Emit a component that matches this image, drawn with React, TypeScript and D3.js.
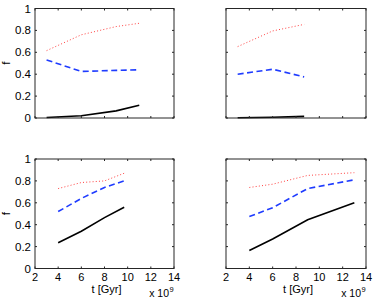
import React from "react";
import * as d3 from "d3";

// ---- data ----
const xTicks = [2, 4, 6, 8, 10, 12, 14];
const yTicks = [0, 0.2, 0.4, 0.6, 0.8, 1];
const yTickLabels = ["0", "0.2", "0.4", "0.6", "0.8", "1"];

// top-left panel
const tA = [3, 6, 9, 11];
const redA = [0.615, 0.76, 0.835, 0.865];
const blueA = [0.53, 0.425, 0.435, 0.44];
const blackA = [0.004, 0.02, 0.065, 0.116];

// top-right panel
const tB = [3, 6, 8.7];
const redB = [0.652, 0.795, 0.855];
const blueB = [0.4, 0.445, 0.375];
const blackB = [0.002, 0.007, 0.015];

// bottom-left panel
const tC = [4, 6, 8, 9.7];
const redC = [0.73, 0.785, 0.8, 0.87];
const blueC = [0.52, 0.64, 0.74, 0.8];
const blackC = [0.235, 0.34, 0.465, 0.56];

// bottom-right panel
const tD = [4, 6, 9, 13];
const redD = [0.74, 0.77, 0.85, 0.875];
const blueD = [0.475, 0.555, 0.73, 0.81];
const blackD = [0.165, 0.27, 0.445, 0.6];

const FONT = "'Liberation Sans', Arial, Helvetica, sans-serif";

type PanelProps = {
  x0: number; x1: number; y0: number; y1: number;
  t: number[]; red: number[]; blue: number[]; black: number[];
  showYLabels: boolean; showXLabels: boolean;
};

function Panel(p: PanelProps) {
  const xs = d3.scaleLinear().domain([2, 14]).range([p.x0, p.x1]);
  const ys = d3.scaleLinear().domain([0, 1]).range([p.y1, p.y0]);
  const line = d3
    .line<[number, number]>()
    .x((d) => xs(d[0]))
    .y((d) => ys(d[1]));
  const mk = (v: number[]) => line(p.t.map((tt, i) => [tt, v[i]] as [number, number])) || "";
  const tl = 2;
  const axisCol = "#262626";
  return (
    <g>
      <path d={mk(p.red)} fill="none" stroke="#ff4040" strokeWidth={1} strokeDasharray="1,2.2" />
      <path d={mk(p.blue)} fill="none" stroke="#1f3cff" strokeWidth={1.6} strokeDasharray="6,3.5" />
      <path d={mk(p.black)} fill="none" stroke="#000" strokeWidth={1.6} />
      <rect x={p.x0} y={p.y0} width={p.x1 - p.x0} height={p.y1 - p.y0} fill="none" stroke={axisCol} strokeWidth={1} />
      {xTicks.map((v) => (
        <g key={"x" + v}>
          <line x1={xs(v)} x2={xs(v)} y1={p.y1} y2={p.y1 - tl} stroke={axisCol} />
          <line x1={xs(v)} x2={xs(v)} y1={p.y0} y2={p.y0 + tl} stroke={axisCol} />
          {p.showXLabels && (
            <text x={xs(v)} y={p.y1 + 12.5} textAnchor="middle" fontSize={11} fontFamily={FONT} fill="#000">
              {v}
            </text>
          )}
        </g>
      ))}
      {yTicks.map((v, i) => (
        <g key={"y" + v}>
          <line x1={p.x0} x2={p.x0 + tl} y1={ys(v)} y2={ys(v)} stroke={axisCol} />
          <line x1={p.x1} x2={p.x1 - tl} y1={ys(v)} y2={ys(v)} stroke={axisCol} />
          {p.showYLabels && (
            <text x={p.x0 - 4} y={ys(v) + 4} textAnchor="end" fontSize={11.5} fontFamily={FONT} fill="#000">
              {yTickLabels[i]}
            </text>
          )}
        </g>
      ))}
      {p.showYLabels && (
        <text
          transform={`translate(${p.x0 - 25},${(p.y0 + p.y1) / 2}) rotate(-90)`}
          textAnchor="middle"
          fontSize={11.5}
          fontFamily={FONT}
          fill="#000"
        >
          f
        </text>
      )}
      {p.showXLabels && (
        <g>
          <text x={(p.x0 + p.x1) / 2 + 2} y={p.y1 + 24.5} textAnchor="middle" fontSize={11} fontFamily={FONT} fill="#000">
            t [Gyr]
          </text>
          <text x={p.x1 - 5} y={p.y1 + 28.5} textAnchor="end" fontSize={10.5} fontFamily={FONT} fill="#000">
            x 10
          </text>
          <text x={p.x1 - 4.5} y={p.y1 + 23} textAnchor="start" fontSize={7.5} fontFamily={FONT} fill="#000">
            9
          </text>
        </g>
      )}
    </g>
  );
}

export default function App() {
  const L = [35, 174];
  const R = [226, 366];
  const T = [8.5, 118];
  const B = [159, 268.5];
  return (
    <svg width={374} height={300} style={{ position: "absolute", left: 0, top: 0, background: "#fff" }}>
      <rect width={374} height={300} fill="#fff" />
      <Panel x0={L[0]} x1={L[1]} y0={T[0]} y1={T[1]} t={tA} red={redA} blue={blueA} black={blackA} showYLabels={true} showXLabels={false} />
      <Panel x0={R[0]} x1={R[1]} y0={T[0]} y1={T[1]} t={tB} red={redB} blue={blueB} black={blackB} showYLabels={false} showXLabels={false} />
      <Panel x0={L[0]} x1={L[1]} y0={B[0]} y1={B[1]} t={tC} red={redC} blue={blueC} black={blackC} showYLabels={true} showXLabels={true} />
      <Panel x0={R[0]} x1={R[1]} y0={B[0]} y1={B[1]} t={tD} red={redD} blue={blueD} black={blackD} showYLabels={false} showXLabels={true} />
    </svg>
  );
}
